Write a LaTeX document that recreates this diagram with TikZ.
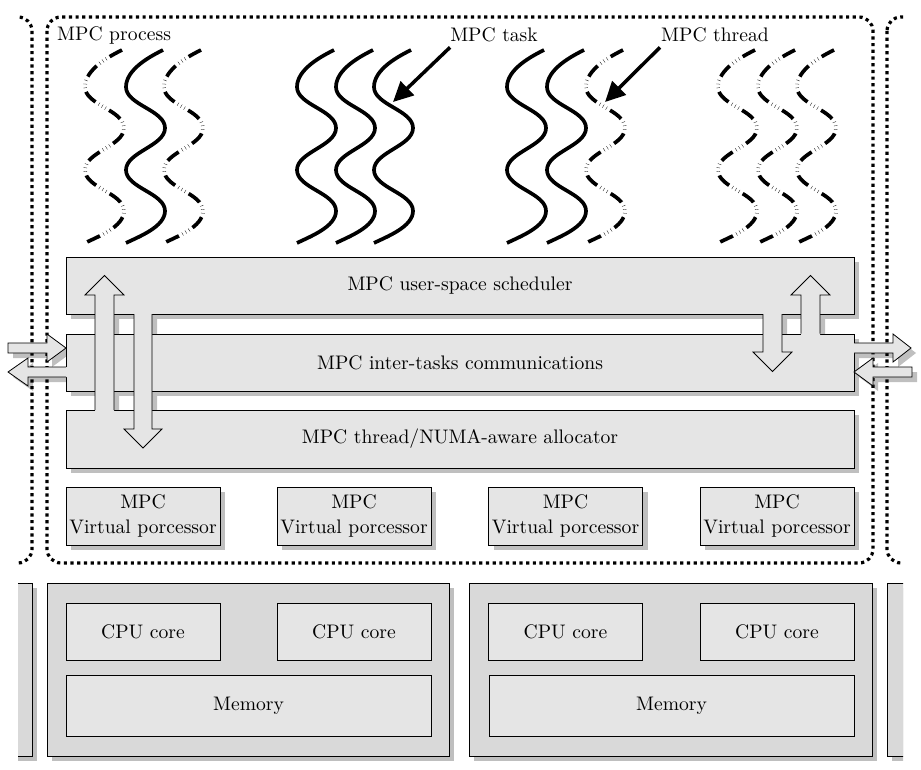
\documentclass[tikz,border=0pt]{standalone}
\usepackage{fontspec}
\setmainfont{lmroman10-regular.otf}
\usetikzlibrary{arrows.meta}
\pgfdeclarelayer{shadowlayer}
\pgfdeclarelayer{toplayer}
\pgfsetlayers{shadowlayer,main,toplayer}
\newcommand{\shd}[1]{\fill[shade] ([shift={(5pt,-5pt)}]#1.south west) rectangle ([shift={(5pt,-5pt)}]#1.north east);}
\newcommand{\thr}[2]{\draw[#2] ({#1+17},50) .. controls ({#1+5},56) and ({#1-20},69) .. ({#1-20},87)
  .. controls ({#1-20},105) and ({#1+19},110) .. ({#1+19},128)
  .. controls ({#1+19},146) and ({#1-20},152) .. ({#1-20},170)
  .. controls ({#1-20},188) and ({#1+19},193) .. ({#1+19},211)
  .. controls ({#1+19},227) and ({#1-8},237) .. ({#1-20},243);}
\begin{document}
\begin{tikzpicture}[x=1pt,y=-1pt, font=\fontsize{19.6}{24.5}\selectfont,
  box/.style={draw=black, line width=0.8pt, fill=gray!20, inner sep=0pt, outer sep=0pt, align=center},
  nodebox/.style={draw=black, line width=0.8pt, fill=gray!30, inner sep=0pt, outer sep=0pt},
  shade/.style={fill=gray!50},
  dots/.style={line width=3.2pt, dash pattern=on 3.2pt off 3.5pt, rounded corners=14pt},
  solidthr/.style={line width=3.7pt},
  dashthr/.style={line width=3.7pt, dash pattern=on 14pt off 4pt on 0.3pt off 3.5pt on 0.3pt off 3.5pt on 0.3pt off 4pt},
  bigarrow/.style={line width=3.5pt, -{Triangle[length=20pt,width=19pt]}},
  blockfill/.style={fill=gray!20},
  blockline/.style={draw=black, line width=0.8pt, line join=miter},
]
\useasboundingbox (0,0) rectangle (921,770);

% neighbouring processes and nodes (clipped)
\begin{scope}
\clip (18,0) rectangle (903,770);
\draw[dots] (-400,17) rectangle (32,563);
\draw[dots] (887,17) rectangle (1300,563);
\node[nodebox, minimum width=402pt, minimum height=173pt] (nodeL) at (-169,669.5) {};
\node[nodebox, minimum width=402pt, minimum height=173pt] (nodeR) at (1088,669.5) {};
\end{scope}
\begin{pgfonlayer}{shadowlayer}
\begin{scope}
\clip (18,0) rectangle (903,770);
\shd{nodeL}
\shd{nodeR}
\end{scope}
\end{pgfonlayer}

% process box
\draw[dots] (47,17) rectangle (873,563);

% labels
\node[anchor=west, inner sep=0pt] (proclbl) at (57,35) {MPC process};
\node[inner sep=0pt] (tasklbl) at (494,35) {MPC task};
\node[inner sep=0pt] (thrlbl) at (715,35) {MPC thread};
\coordinate (tasktip) at (393,102);
\coordinate (thrtip) at (605,102);
\draw[bigarrow] ([yshift=-5pt]tasklbl.south west) -- (tasktip);
\draw[bigarrow] ([shift={(-1pt,-5pt)}]thrlbl.south west) -- (thrtip);

% threads
\thr{105}{dashthr}
\thr{146}{solidthr}
\thr{184}{dashthr}
\thr{317}{solidthr}
\thr{356}{solidthr}
\thr{394}{solidthr}
\thr{527}{solidthr}
\thr{567}{solidthr}
\thr{606}{dashthr}
\thr{738}{dashthr}
\thr{778}{dashthr}
\thr{817}{dashthr}

% layers
\node[box, minimum width=788pt, minimum height=57pt] (sched) at (460,285.5) {MPC user-space scheduler};
\node[box, minimum width=788pt, minimum height=57pt] (comm) at (460,362.5) {MPC inter-tasks communications};
\node[box, minimum width=788pt, minimum height=58pt] (alloc) at (460,439) {MPC thread/NUMA-aware allocator};

% virtual processors
\foreach \i/\cx in {1/143, 2/354, 3/565.5, 4/777} {
  \node[box, minimum width=154pt, minimum height=58pt] (vp\i) at (\cx,516) {MPC\\Virtual porcessor};
}

% hardware nodes
\node[nodebox, minimum width=402pt, minimum height=173pt] (node1) at (248,669.5) {};
\node[nodebox, minimum width=403pt, minimum height=173pt] (node2) at (670.5,669.5) {};
\node[box, minimum width=154pt, minimum height=57pt] (cpu1) at (143,631.5) {CPU core};
\node[box, minimum width=154pt, minimum height=57pt] (cpu2) at (354,631.5) {CPU core};
\node[box, minimum width=154pt, minimum height=57pt] (cpu3) at (565.5,631.5) {CPU core};
\node[box, minimum width=154pt, minimum height=57pt] (cpu4) at (777,631.5) {CPU core};
\node[box, minimum width=365pt, minimum height=61pt] (mem1) at (248.5,705.5) {Memory};
\node[box, minimum width=365pt, minimum height=61pt] (mem2) at (671.5,705.5) {Memory};

\begin{pgfonlayer}{shadowlayer}
\foreach \n in {sched,comm,alloc,vp1,vp2,vp3,vp4,node1,node2,cpu1,cpu2,cpu3,cpu4,mem1,mem2} {\shd{\n}}
\begin{scope}[shift={(5pt,-5pt)}]
\fill[shade] (95,420) -- (95,295) -- (85,295) -- (104.5,275.5) -- (124,295) -- (114,295) -- (114,420) -- cycle;
\fill[shade] (134,305) -- (134,429) -- (124,429) -- (143,448) -- (162,429) -- (152,429) -- (152,305) -- cycle;
\fill[shade] (763,305) -- (763,352) -- (753,352) -- (772.5,371.5) -- (792,352) -- (782,352) -- (782,305) -- cycle;
\fill[shade] (801,343) -- (801,295) -- (791,295) -- (810.5,275.5) -- (830,295) -- (820,295) -- (820,343) -- cycle;
\fill[shade] (8,343) -- (47,343) -- (47,334) -- (66,348) -- (47,362) -- (47,353) -- (8,353) -- cycle;
\fill[shade] (76,367) -- (28,367) -- (28,358) -- (8,372) -- (28,386) -- (28,377) -- (76,377) -- cycle;
\fill[shade] (844,343) -- (893,343) -- (893,334) -- (911,348) -- (893,362) -- (893,353) -- (844,353) -- cycle;
\fill[shade] (912,367) -- (873,367) -- (873,358) -- (854,372) -- (873,386) -- (873,377) -- (912,377) -- cycle;
\end{scope}
\end{pgfonlayer}

% block arrows
\begin{pgfonlayer}{toplayer}
% left up (allocator -> scheduler)
\fill[blockfill] (95,420) -- (95,295) -- (85,295) -- (104.5,275.5) -- (124,295) -- (114,295) -- (114,420) -- cycle;
\draw[blockline] (95,410) -- (95,295) -- (85,295) -- (104.5,275.5) -- (124,295) -- (114,295) -- (114,410);
% left down (scheduler -> allocator)
\fill[blockfill] (134,305) -- (134,429) -- (124,429) -- (143,448) -- (162,429) -- (152,429) -- (152,305) -- cycle;
\draw[blockline] (134,314) -- (134,429) -- (124,429) -- (143,448) -- (162,429) -- (152,429) -- (152,314);
% right down (scheduler -> comm)
\fill[blockfill] (763,305) -- (763,352) -- (753,352) -- (772.5,371.5) -- (792,352) -- (782,352) -- (782,305) -- cycle;
\draw[blockline] (763,314) -- (763,352) -- (753,352) -- (772.5,371.5) -- (792,352) -- (782,352) -- (782,314);
% right up (comm -> scheduler)
\fill[blockfill] (801,343) -- (801,295) -- (791,295) -- (810.5,275.5) -- (830,295) -- (820,295) -- (820,343) -- cycle;
\draw[blockline] (801,333.5) -- (801,295) -- (791,295) -- (810.5,275.5) -- (830,295) -- (820,295) -- (820,333.5);
% left inward
\fill[blockfill] (8,343) -- (47,343) -- (47,334) -- (66,348) -- (47,362) -- (47,353) -- (8,353) -- cycle;
\draw[blockline] (8,343) -- (47,343) -- (47,334) -- (66,348) -- (47,362) -- (47,353) -- (8,353) -- cycle;
% left outward
\fill[blockfill] (76,367) -- (28,367) -- (28,358) -- (8,372) -- (28,386) -- (28,377) -- (76,377) -- cycle;
\draw[blockline] (66,367) -- (28,367) -- (28,358) -- (8,372) -- (28,386) -- (28,377) -- (66,377);
% right outward
\fill[blockfill] (844,343) -- (893,343) -- (893,334) -- (911,348) -- (893,362) -- (893,353) -- (844,353) -- cycle;
\draw[blockline] (854,343) -- (893,343) -- (893,334) -- (911,348) -- (893,362) -- (893,353) -- (854,353);
% right inward
\fill[blockfill] (912,367) -- (873,367) -- (873,358) -- (854,372) -- (873,386) -- (873,377) -- (912,377) -- cycle;
\draw[blockline] (912,367) -- (873,367) -- (873,358) -- (854,372) -- (873,386) -- (873,377) -- (912,377) -- cycle;
\end{pgfonlayer}
\end{tikzpicture}
\end{document}
